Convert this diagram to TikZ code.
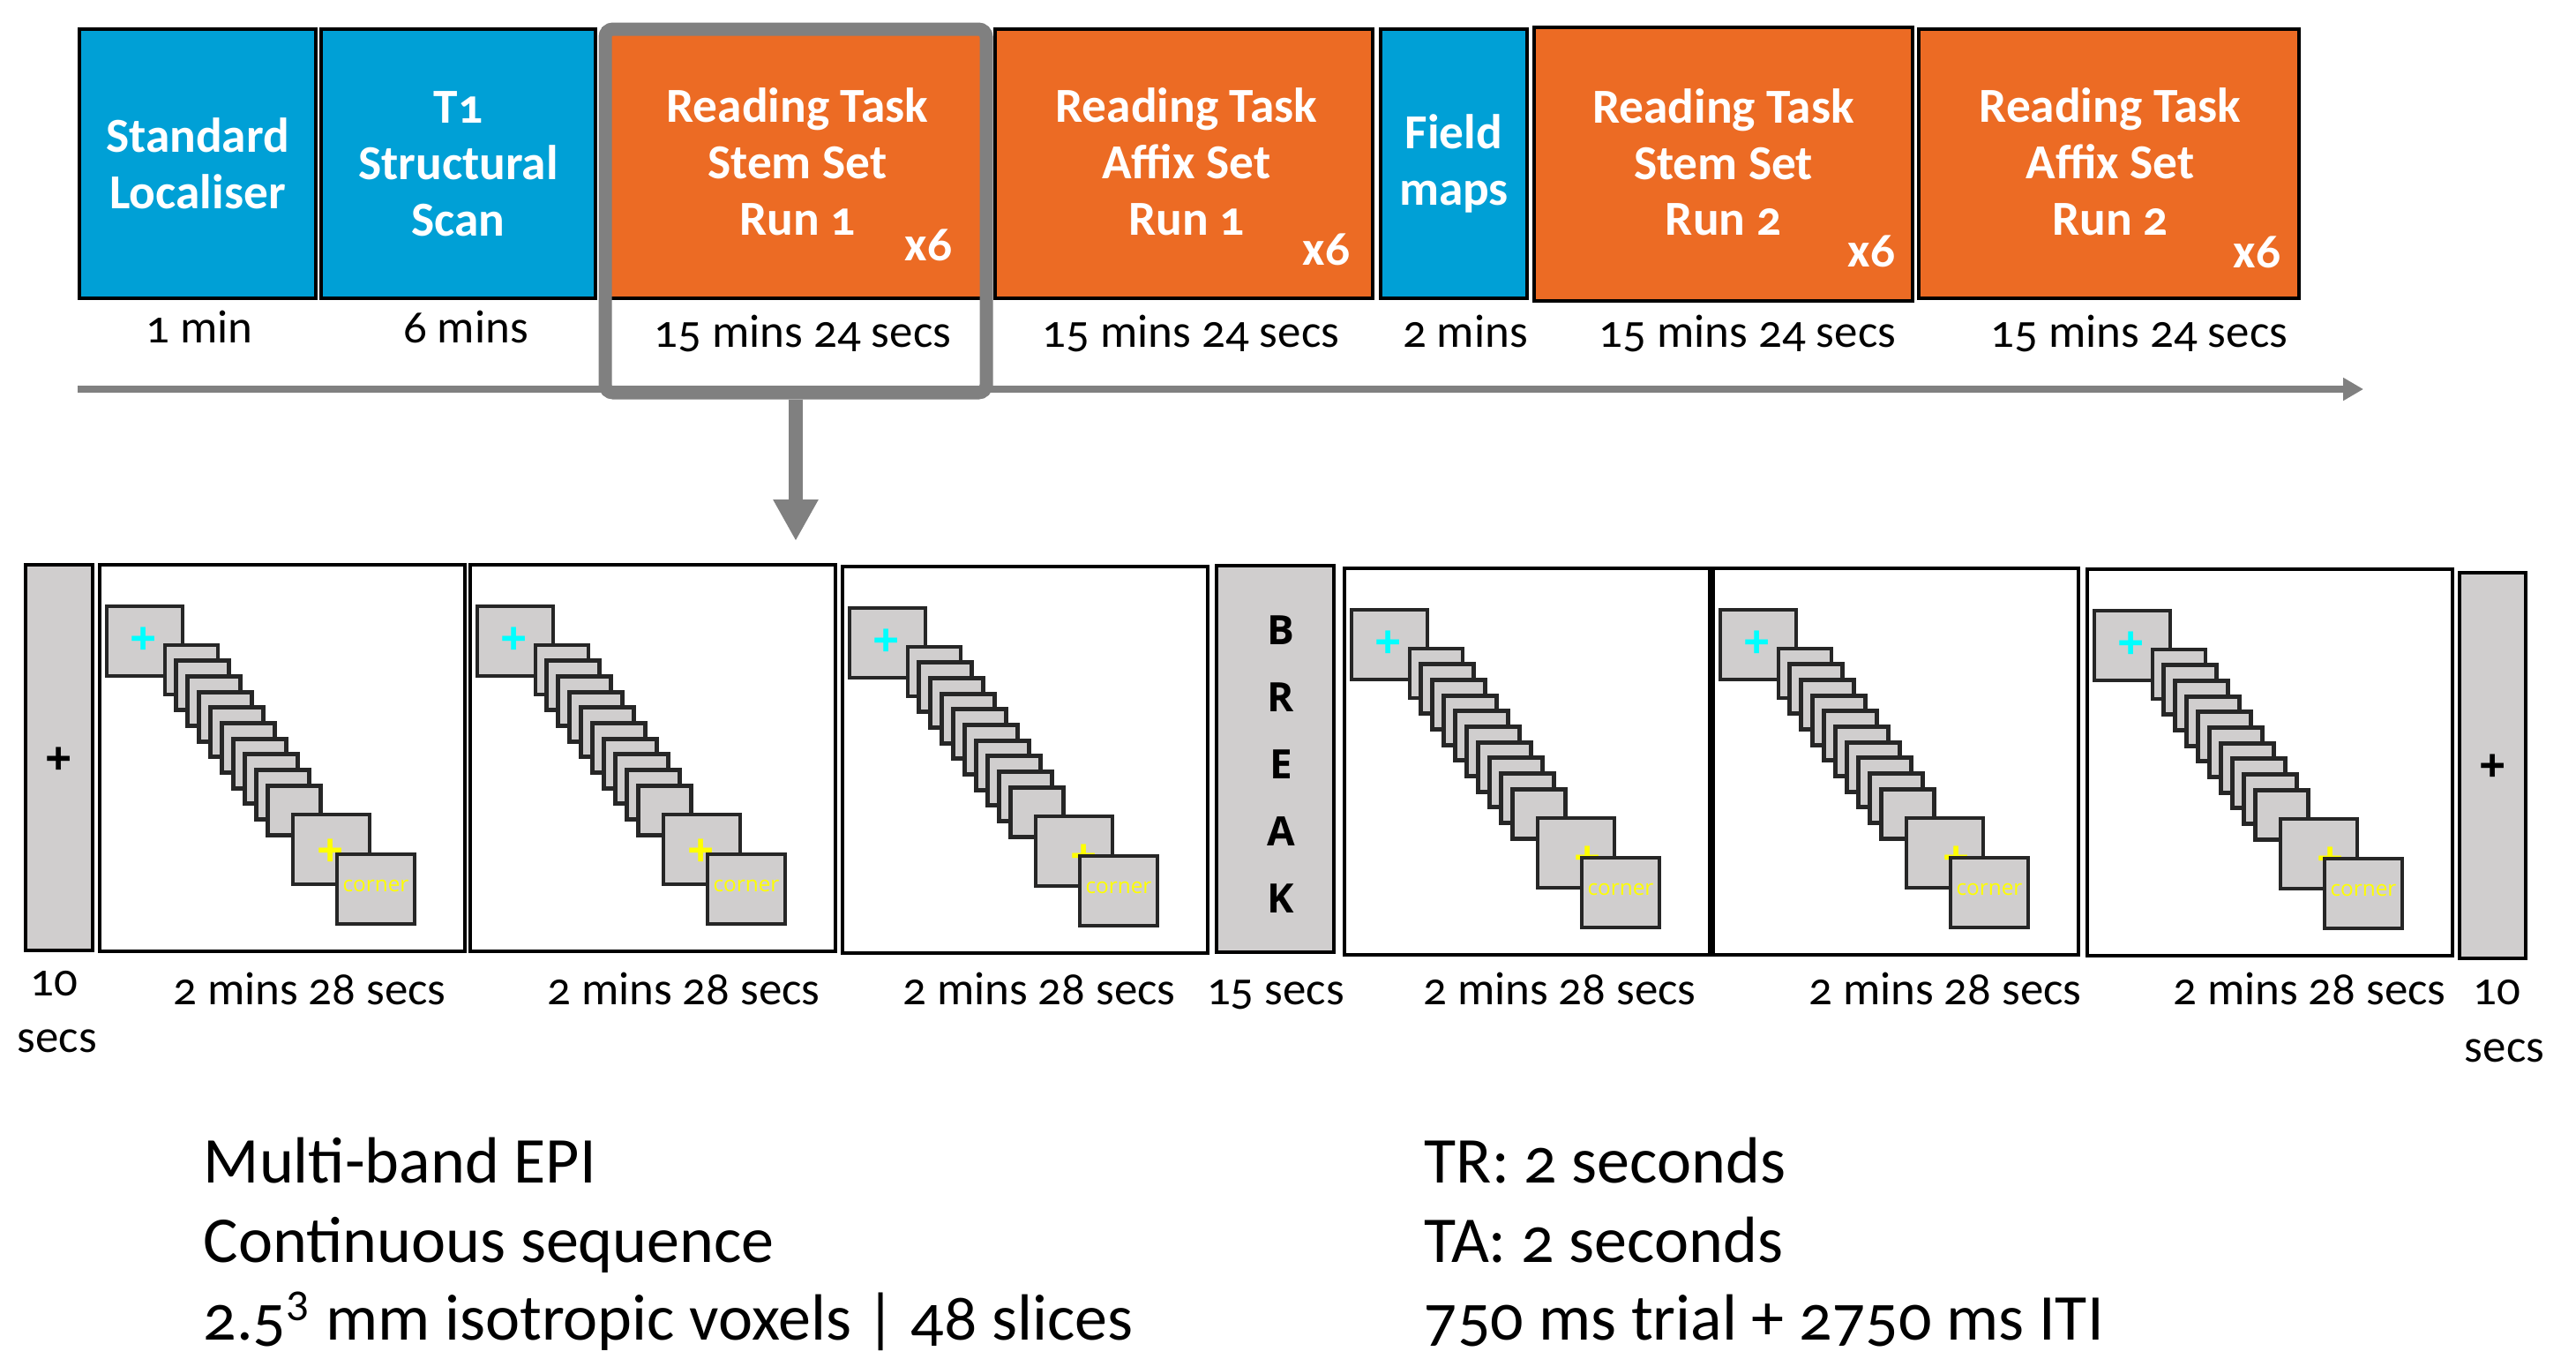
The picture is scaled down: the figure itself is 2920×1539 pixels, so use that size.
\documentclass[tikz,border=0pt]{standalone}
\usepackage{fontspec}
\setmainfont{Carlito}[Numbers=OldStyle]
\newfontfamily\osans{Open Sans}
\usetikzlibrary{arrows.meta,fit}
\definecolor{scanblue}{RGB}{0,160,214}
\definecolor{taskorange}{RGB}{236,107,36}
\definecolor{framegrey}{RGB}{128,128,128}
\definecolor{stimgrey}{RGB}{208,206,206}
\definecolor{sqedge}{RGB}{38,38,38}
\definecolor{fixcyan}{RGB}{0,255,255}
\definecolor{fixyellow}{RGB}{255,255,0}
\tikzset{
  scanbox/.style={draw=black, line width=1.4pt, inner sep=0pt},
  bluebox/.style={scanbox, fill=scanblue},
  orangebox/.style={scanbox, fill=taskorange},
  boxlabel/.style={text=white, align=center, inner sep=0pt, anchor=center,
    font=\bfseries\fontsize{15.7}{18.1}\selectfont},
  reps/.style={text=white, font=\bfseries\fontsize{15.7}{18.1}\selectfont, anchor=base east, inner sep=0pt},
  dur/.style={font=\fontsize{15}{18}\selectfont, anchor=base, inner sep=0pt},
  spec/.style={font=\fontsize{21}{25}\selectfont, anchor=base west, inner sep=0pt},
  panelbox/.style={draw=black, line width=0.9pt, fill=white, inner sep=0pt},
  greybar/.style={draw=black, line width=0.9pt, fill=stimgrey, inner sep=0pt},
  sq/.style={draw=sqedge, line width=1.4pt, fill=stimgrey},
  fix/.style={font=\osans\bfseries\fontsize{15}{15}\selectfont, inner sep=0pt},
  cornertext/.style={font=\osans\fontsize{6.9}{8}\selectfont, text=fixyellow, anchor=base, inner sep=0pt},
  breaktext/.style={font=\osans\bfseries\fontsize{13}{21.5}\selectfont, align=center, inner sep=0pt},
  zoomframe/.style={draw=framegrey, line width=4.25pt, rounded corners=2.5pt, inner sep=0pt},
}
% #1 name, #2 x, #3 y, #4 x of end cross, #5 y of end cross
\newcommand{\stimpanel}[5]{%
  \node[panelbox, fit={(#2,#3)({#2+414},{#3+438})}] (#1) {};
  \begin{scope}[shift={(#2,#3)}]
    \draw[sq] (8,47) rectangle +(86,79);
    \node[fix, text=fixcyan] (#1-cue) at (50,87) {+};
    \foreach \k in {0,...,9} {\draw[sq] ({74+12.9*\k},{91+17.7*\k}) rectangle +(60,56);}
    \draw[sq] (219,283) rectangle +(87,79);
    \node[fix, text=fixyellow] (#1-end) at (#4,#5) {+};
    \draw[sq] (269,328) rectangle +(88,79);
    \node[cornertext] (#1-word) at (313,370) {corner};
  \end{scope}}
\begin{document}
\begin{tikzpicture}[x=0.2835pt, y=-0.2835pt]
\useasboundingbox (0,0) rectangle (2920,1539);
% top row
\node[bluebox, fit={(90,33)(358,338)}] (b1) {};
\node[bluebox, fit={(364,33)(675,338)}] (b2) {};
\node[orangebox, fit={(684,33)(1118,338)}] (b3) {};
\node[orangebox, fit={(1128,33)(1556,338)}] (b4) {};
\node[bluebox, fit={(1565,33)(1731,338)}] (b5) {};
\node[orangebox, fit={(1739,31)(2168,341)}] (b6) {};
\node[orangebox, fit={(2175,33)(2606,338)}] (b7) {};
\node[boxlabel] (b1t) at (b1.center) {Standard\\Localiser};
\node[boxlabel] (b2t) at (b2.center) {T1\\Structural\\Scan};
\node[boxlabel] (b3t) at ([xshift=0.8pt,yshift=0.6pt]b3.center) {Reading Task\\Stem Set\\Run 1};
\node[boxlabel] (b4t) at ([xshift=0.8pt,yshift=0.6pt]b4.center) {Reading Task\\Affix Set\\Run 1};
\node[boxlabel] (b5t) at (b5.center) {Field\\maps};
\node[boxlabel] (b6t) at ([yshift=0.6pt]b6.center) {Reading Task\\Stem Set\\Run 2};
\node[boxlabel] (b7t) at ([xshift=0.4pt,yshift=0.6pt]b7.center) {Reading Task\\Affix Set\\Run 2};
\node[reps] (r3) at (1080,295) {x6};
\node[reps] (r4) at (1531,300) {x6};
\node[reps] (r6) at (2149,302) {x6};
\node[reps] (r7) at (2586,303) {x6};
% durations
\node[dur] (d1) at (226,388) {1 min};
\node[dur] (d2) at (528,388) {6 mins};
\node[dur] (d3) at (910,393) {15 mins 24 secs};
\node[dur] (d4) at (1350,393) {15 mins 24 secs};
\node[dur] (d5) at (1661,393) {2 mins};
\node[dur] (d6) at (1981,393) {15 mins 24 secs};
\node[dur] (d7) at (2425,393) {15 mins 24 secs};
% timeline
\coordinate (tl0) at (88,441);
\coordinate (tl1) at (2679,441);
\draw[framegrey, line width=2pt, -{Triangle[length=6.5pt,width=7pt]}] (tl0) -- (tl1);
% zoom frame and arrow
\node[zoomframe, fit={(686,33)(1118,445)}] (frame) {};
\coordinate (tip) at (902,613);
\draw[framegrey, line width=4.5pt, -{Triangle[length=13.3pt,width=13.6pt]}] (frame.south) -- (tip);
% lower row
\node[greybar, fit={(29,640)(105,1077)}] (fixL) {};
\node[fix] (fixLp) at (67,863) {+};
\stimpanel{p1}{113}{640}{262}{327}
\stimpanel{p2}{533}{640}{262}{327}
\stimpanel{p3}{955}{642}{274}{331}
\node[greybar, fit={(1379,641)(1512,1079)}] (brk) {};
\node[breaktext] (brktxt) at (1452,866) {B\\R\\E\\A\\K};
\stimpanel{p4}{1524}{644}{276}{331}
\stimpanel{p5}{1942}{644}{276}{331}
\stimpanel{p6}{2366}{645}{276}{331}
\node[greybar, fit={(2788,649)(2863,1086)}] (fixR) {};
\node[fix] (fixRp) at (2826,871) {+};
% lower durations
\node[dur] (e0a) at (61,1128) {10};
\node[dur] (e0b) at (65,1192) {secs};
\node[dur] (e1) at (351,1138) {2 mins 28 secs};
\node[dur] (e2) at (775,1138) {2 mins 28 secs};
\node[dur] (e3) at (1178,1138) {2 mins 28 secs};
\node[dur] (e4) at (1446,1138) {15 secs};
\node[dur] (e5) at (1768,1138) {2 mins 28 secs};
\node[dur] (e6) at (2205,1138) {2 mins 28 secs};
\node[dur] (e7) at (2618,1138) {2 mins 28 secs};
\node[dur] (e8a) at (2830,1138) {10};
\node[dur] (e8b) at (2839,1203) {secs};
% specs
\node[spec] (s1) at (230,1340) {Multi-band EPI};
\node[spec] (s2) at (230,1430) {Continuous sequence};
\node[spec] (s3) at (230,1518) {2.5\textsuperscript{3} mm isotropic voxels | 48 slices};
\node[spec] (t1) at (1614,1340) {TR: 2 seconds};
\node[spec] (t2) at (1614,1430) {TA: 2 seconds};
\node[spec] (t3) at (1614,1518) {750 ms trial + 2750 ms ITI};
\end{tikzpicture}
\end{document}
